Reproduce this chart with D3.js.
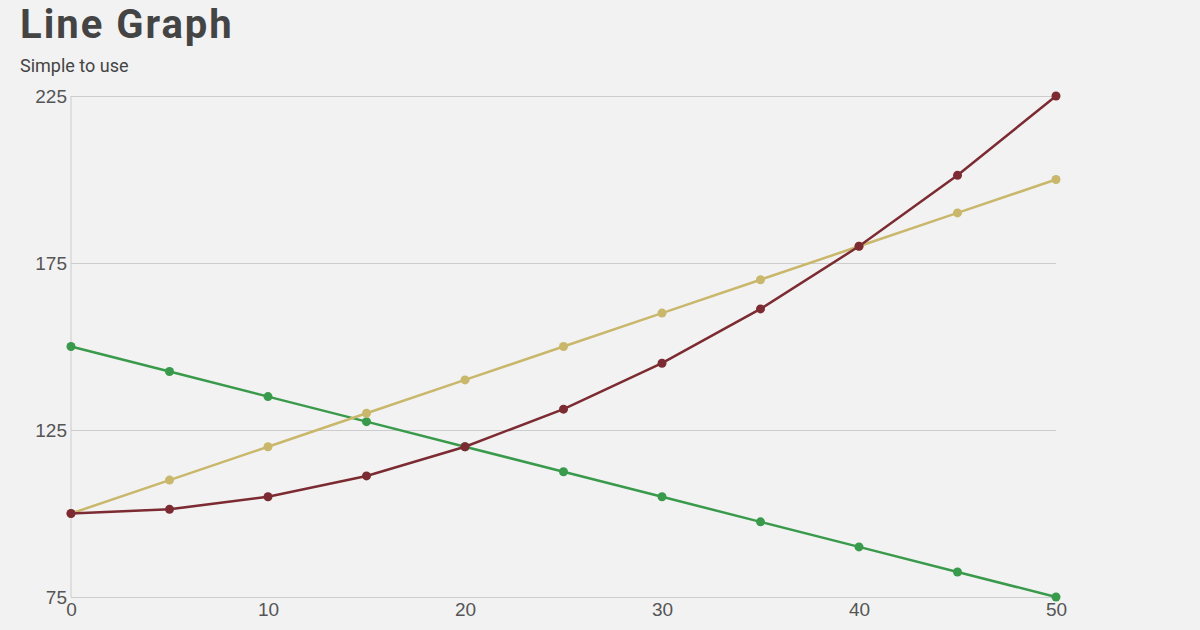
<!DOCTYPE html>
<html>
<head>
<meta charset="utf-8">
<script src="https://cdn.jsdelivr.net/npm/d3@7"></script>
<style>
  body { margin: 0; background: #f2f2f2; font-family: Roboto, "Noto Sans", sans-serif; }
  svg { display: block; }
  .tick text { font-size: 19px; fill: #555; }
</style>
</head>
<body>
<svg id="chart" width="1200" height="630"></svg>
<script>
const xValues = [0, 5, 10, 15, 20, 25, 30, 35, 40, 45, 50];
const greenSeries = [150, 142.5, 135, 127.5, 120, 112.5, 105, 97.5, 90, 82.5, 75];
const yellowSeries = [100, 110, 120, 130, 140, 150, 160, 170, 180, 190, 200];
const redSeries = [100, 101.25, 105, 111.25, 120, 131.25, 145, 161.25, 180, 201.25, 225];
const xTicks = [0, 10, 20, 30, 40, 50];
const yTicks = [75, 125, 175, 225];

const margin = {left: 71, right: 144, top: 96, bottom: 33};
const width = 1200 - margin.left - margin.right;
const height = 630 - margin.top - margin.bottom;

const svg = d3.select("#chart");

svg.append("text")
  .attr("x", 20).attr("y", 38)
  .attr("font-size", 40).attr("font-weight", "bold")
  .attr("letter-spacing", 2).attr("fill", "#444")
  .text("Line Graph");

svg.append("text")
  .attr("x", 20).attr("y", 72)
  .attr("font-size", 18).attr("fill", "#444")
  .text("Simple to use");

const g = svg.append("g").attr("transform", `translate(${margin.left},${margin.top})`);

const x = d3.scaleLinear().domain([0, 50]).range([0, width]);
const y = d3.scaleLinear().domain([75, 225]).range([height, 0]);

g.append("g")
  .call(d3.axisLeft(y).tickValues(yTicks).tickSize(-width).tickPadding(4))
  .call(a => a.select(".domain").remove())
  .call(a => a.selectAll(".tick line").attr("stroke", "#ccc"))
  .call(a => a.selectAll(".tick text").attr("dy", "0.35em"));

g.append("line")
  .attr("x1", 0).attr("x2", 0).attr("y1", 0).attr("y2", height)
  .attr("stroke", "#ccc");

g.append("g")
  .attr("transform", `translate(0,${height})`)
  .call(d3.axisBottom(x).tickValues(xTicks).tickSize(0).tickPadding(6))
  .call(a => a.select(".domain").attr("stroke", "#ccc"));

const series = [
  {values: greenSeries, color: "#3a9a4c"},
  {values: yellowSeries, color: "#c9b76b"},
  {values: redSeries, color: "#7b2b31"}
];

const line = d3.line().x((d, i) => x(xValues[i])).y(d => y(d));

series.forEach(s => {
  g.append("path")
    .attr("d", line(s.values))
    .attr("fill", "none")
    .attr("stroke", s.color)
    .attr("stroke-width", 2.5);
  g.selectAll(null)
    .data(s.values)
    .join("circle")
    .attr("cx", (d, i) => x(xValues[i]))
    .attr("cy", d => y(d))
    .attr("r", 4.5)
    .attr("fill", s.color);
});
</script>
</body>
</html>
